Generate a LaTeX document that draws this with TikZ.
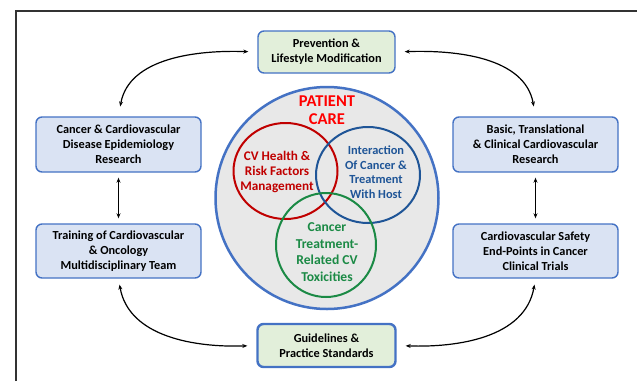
\documentclass[tikz,border=0pt]{standalone}
\usepackage{fontspec}
\setmainfont{Carlito}
\usetikzlibrary{shapes.geometric,arrows.meta}
\definecolor{boxblue}{HTML}{DAE3F3}
\definecolor{boxgreen}{HTML}{E2EFDA}
\definecolor{edgeblue}{HTML}{4472C4}
\definecolor{careRed}{HTML}{C00000}
\definecolor{careBlue}{HTML}{1F5597}
\definecolor{careGreen}{HTML}{1B8A45}
\definecolor{careGray}{HTML}{E8E8E8}
\tikzset{
  topic/.style={draw=edgeblue, line width=1.4pt, rounded corners=6pt, fill=boxblue,
    align=center, font=\bfseries\fontsize{12.3}{15}\selectfont, inner sep=0pt},
  goal/.style={topic, fill=boxgreen},
  ring/.style={ellipse, line width=2pt, inner sep=0pt},
  ringtext/.style={align=center, font=\bfseries},
  link/.style={-{Stealth[length=5pt,width=4pt]}, line width=1.2pt},
  twolink/.style={{Stealth[length=5pt,width=4pt]}-{Stealth[length=5pt,width=4pt]}, line width=1.2pt}
}
\begin{document}
\begin{tikzpicture}[x=1pt, y=-1pt]
  \useasboundingbox (0,0) rectangle (637,381);
  % frame
  \draw[line width=2pt, black!80] (15.5,381) -- (15.5,10.5) -- (637,10.5);
  % patient care
  \node[ring, draw=edgeblue, line width=2.5pt, fill=careGray, minimum width=223pt, minimum height=222pt] (care) at (327,198) {};
  \node[font=\bfseries\fontsize{16.5}{18.5}\selectfont, text=red, align=center] (caretitle) at (327,110) {PATIENT\\CARE};
  \node[ring, draw=careRed, minimum width=104pt, minimum height=96pt] (health) at (285.5,171) {};
  \node[ring, draw=careBlue, minimum width=104pt, minimum height=96pt] (host) at (368,175) {};
  \node[ring, draw=careGreen, minimum width=100pt, minimum height=104pt] (toxic) at (326,245) {};
  \node[ringtext, text=careRed, font=\bfseries\fontsize{13.2}{15.2}\selectfont] (healthtext) at (277,172) {CV Health \&\\Risk Factors\\Management};
  \node[ringtext, text=careBlue, font=\bfseries\fontsize{12.4}{14.5}\selectfont] (hosttext) at (376,172) {Interaction\\Of Cancer \&\\Treatment\\With Host};
  \node[ringtext, text=careGreen, font=\bfseries\fontsize{13.6}{16.5}\selectfont] (toxictext) at (327,252) {Cancer\\Treatment-\\Related CV\\Toxicities};
  % boxes
  \node[goal, minimum width=137pt, minimum height=42pt] (prev) at (326.5,52) {Prevention \&\\Lifestyle Modification};
  \node[goal, line width=2.4pt, minimum width=138pt, minimum height=43pt] (guide) at (326.5,345.5) {Guidelines \&\\Practice Standards};
  \node[topic, minimum width=165pt, minimum height=55pt] (epi) at (118.5,144.5) {Cancer \& Cardiovascular\\Disease Epidemiology\\Research};
  \node[topic, minimum width=165pt, minimum height=54pt] (train) at (118.5,251) {Training of Cardiovascular\\\& Oncology\\Multidisciplinary Team};
  \node[topic, minimum width=165pt, minimum height=55pt] (basic) at (535.5,144.5) {Basic, Translational\\\& Clinical Cardiovascular\\Research};
  \node[topic, minimum width=165pt, minimum height=54pt] (safety) at (535.5,251) {Cardiovascular Safety\\End-Points in Cancer\\Clinical Trials};
  % arrows
  \draw[twolink, shorten <=9pt, shorten >=10pt] (prev.west) to[out=178, in=80] (epi.north);
  \draw[twolink, shorten <=9pt, shorten >=10pt] (prev.east) to[out=2, in=100] (basic.north);
  \draw[twolink, shorten <=9pt, shorten >=6pt] (guide.west) to[out=182, in=-80] (train.south);
  \draw[twolink, shorten <=9pt, shorten >=6pt] (guide.east) to[out=-2, in=-100] (safety.south);
  \draw[twolink, shorten <=5pt, shorten >=5pt] (epi) -- (train);
  \draw[twolink, shorten <=5pt, shorten >=5pt] (basic) -- (safety);
\end{tikzpicture}
\end{document}
